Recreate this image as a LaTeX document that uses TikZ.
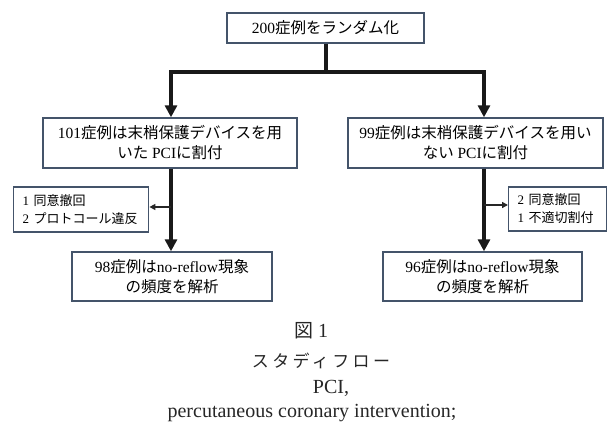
\documentclass[tikz,border=0pt]{standalone}
\usepackage{fontspec}
\setmainfont{Liberation Serif}
\newfontfamily\jp{Noto Sans CJK JP}
\newfontfamily\jpcap[LetterSpace=20]{Noto Sans CJK JP}
\usetikzlibrary{arrows.meta}
\definecolor{boxedge}{RGB}{68,84,106}
\begin{document}
\begin{tikzpicture}[x=1pt,y=-1pt,
  flowbox/.style={draw=boxedge,line width=1.4pt,fill=white,align=center,inner sep=0pt,
    font=\fontsize{15.5}{20}\selectfont},
  exclbox/.style={draw=boxedge,line width=1.4pt,fill=white,align=left,inner ysep=0pt,inner xsep=9pt,
    font=\fontsize{13}{18}\selectfont},
  mainline/.style={line width=4pt,draw=black!90},
  mainarrow/.style={mainline,-{Triangle[length=12pt,width=12pt]}},
  sidearrow/.style={line width=1.5pt,draw=black!85,-{Triangle[length=6pt,width=6pt]}},
  captext/.style={font=\fontsize{20}{24}\selectfont,inner sep=0pt,text=black!85}]
\useasboundingbox (0,0) rectangle (611,427);
\node[flowbox,minimum width=197pt,minimum height=30pt] (top) at (325.5,28) {200{\jp 症例をランダム化}};
\node[flowbox,minimum width=254pt,minimum height=50pt] (lbox) at (170,143) {101{\jp 症例は末梢保護デバイスを用}\\{\jp いた} PCI{\jp に割付}};
\node[flowbox,minimum width=255pt,minimum height=50pt] (rbox) at (475.5,143) {99{\jp 症例は末梢保護デバイスを用い}\\{\jp ない} PCI{\jp に割付}};
\node[exclbox,text width=117pt,minimum height=45pt,anchor=west] (lexcl) at (13,209.5) {1 {\jp 同意撤回}\\2 {\jp プロトコール違反}};
\node[exclbox,text width=80pt,minimum height=44pt,anchor=west] (rexcl) at (508,209) {2 {\jp 同意撤回}\\1 {\jp 不適切割付}};
\node[flowbox,minimum width=200pt,minimum height=49pt] (lres) at (172,276.5) {98{\jp 症例は}no-reflow{\jp 現象}\\{\jp の頻度を解析}};
\node[flowbox,minimum width=199pt,minimum height=49pt] (rres) at (482.5,276.5) {96{\jp 症例は}no-reflow{\jp 現象}\\{\jp の頻度を解析}};
\coordinate (jl) at (171,72);
\coordinate (jr) at (484,72);
\coordinate (jm) at (326,72);
\coordinate (sl) at (171,207);
\coordinate (sr) at (484,205);
\draw[mainline] (top.south -| jm) -- (jm);
\draw[mainline,line cap=rect] (jl) -- (jr);
\draw[mainarrow] (jl) -- (jl |- lbox.north);
\draw[mainarrow] (jr) -- (jr |- rbox.north);
\draw[mainarrow] (lbox.south -| jl) -- (lres.north -| jl);
\draw[mainarrow] (rbox.south -| jr) -- (rres.north -| jr);
\draw[sidearrow] (sl) -- (sl -| lexcl.east);
\draw[sidearrow] (sr) -- (sr -| rexcl.west);
\node[captext] (fig) at (311,331) {{\fontsize{19}{24}\selectfont\jp 図} 1};
\node[captext] (title) at (321,361) {\fontsize{17}{24}\selectfont\jpcap スタディフロー};
\node[captext] (abbr) at (331,388) {PCI,};
\node[captext] (full) at (312,413) {percutaneous coronary intervention;};
\end{tikzpicture}
\end{document}
